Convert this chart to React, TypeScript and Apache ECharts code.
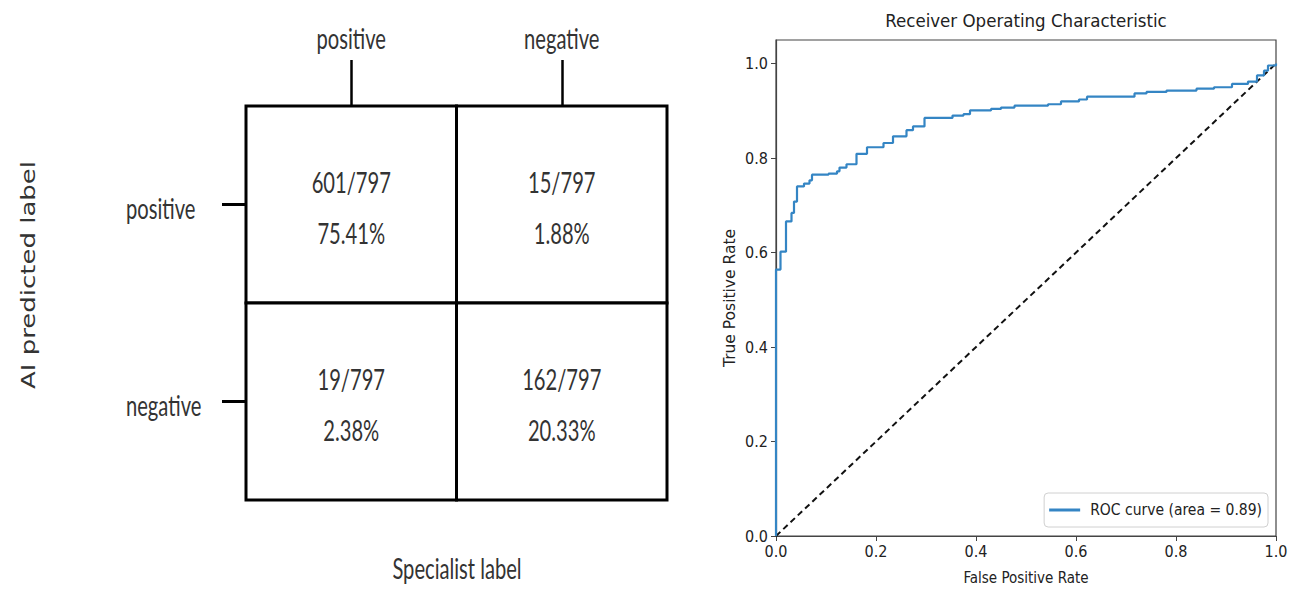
import React, { useEffect, useRef } from "react";
import * as echarts from "echarts";

// ---------- Confusion matrix data ----------
const specialistLabels = ["positive", "negative"]; // columns (x)
const predictedLabels = ["positive", "negative"]; // rows (y)
// rows: AI predicted label, columns: specialist label
const confusionCounts = [
  [601, 15],
  [19, 162],
];
const totalCases = 797;

// ---------- ROC data ----------
const fprValues = [
  0, 0, 0.009, 0.02, 0.031, 0.036, 0.042, 0.056, 0.067, 0.072,
  0.105, 0.122, 0.127, 0.141, 0.161, 0.182, 0.215, 0.234, 0.261, 0.274,
  0.297, 0.353, 0.375, 0.388, 0.43, 0.45, 0.477, 0.544, 0.57, 0.606,
  0.622, 0.717, 0.741, 0.781, 0.841, 0.876, 0.912, 0.944, 0.962, 0.976,
  0.984, 1.0,
];
const tprValues = [
  0, 0.564, 0.602, 0.666, 0.684, 0.708, 0.74, 0.746, 0.753, 0.765,
  0.767, 0.772, 0.78, 0.787, 0.809, 0.823, 0.832, 0.846, 0.859, 0.867,
  0.885, 0.89, 0.893, 0.901, 0.904, 0.907, 0.911, 0.914, 0.92, 0.924,
  0.93, 0.937, 0.94, 0.943, 0.947, 0.95, 0.957, 0.962, 0.975, 0.985,
  0.996, 1.0,
];
const chanceLine = [
  [0, 0],
  [1, 1],
];
const rocAxisTicks = [0, 0.2, 0.4, 0.6, 0.8, 1.0];
const rocName = "ROC curve (area = 0.89)";

const CM_FONT = "Lato, 'Open Sans', sans-serif";
const CM_SIZE = 28;
const CM_SQUEEZE = 0.72;
const MPL_FONT = "'DejaVu Sans Condensed', 'DejaVu Sans', sans-serif";

export default function App() {
  const ref = useRef<HTMLDivElement>(null);

  useEffect(() => {
    if (!ref.current) return;
    const chart = echarts.init(ref.current, undefined, { renderer: "svg" });

    const cmData: any[] = [];
    for (let r = 0; r < predictedLabels.length; r++) {
      for (let c = 0; c < specialistLabels.length; c++) {
        const n = confusionCounts[r][c];
        cmData.push([c, r, n, ((n / totalCases) * 100).toFixed(2) + "%"]);
      }
    }

    const cmText = (text: string, x: number, y: number, align = "center") => ({
      type: "text",
      x,
      y,
      scaleX: CM_SQUEEZE,
      style: {
        text,
        fontFamily: CM_FONT,
        fontSize: CM_SIZE,
        fill: "#333",
        align,
        verticalAlign: "middle",
      },
    });

    const option: any = {
      animation: false,
      backgroundColor: "#ffffff",
      title: {
        text: "Receiver Operating Characteristic",
        left: 1026,
        top: 11,
        textAlign: "center",
        padding: 0,
        textStyle: {
          fontFamily: MPL_FONT,
          fontSize: 18.5,
          fontWeight: "normal",
          color: "#222",
        },
      },
      legend: {
        data: [{ name: rocName, icon: "rect" }],
        right: 32,
        bottom: 67,
        orient: "vertical",
        itemWidth: 31,
        itemHeight: 3,
        padding: [9, 6, 9, 5],
        borderColor: "#d0d0d0",
        borderWidth: 1,
        borderRadius: 4,
        backgroundColor: "#fff",
        textStyle: {
          fontFamily: MPL_FONT,
          fontSize: 15.5,
          color: "#222",
          padding: [0, 0, 0, 5],
        },
      },
      grid: [
        {
          left: 776,
          top: 40,
          right: 24,
          bottom: 58,
          show: true,
          borderColor: "#444",
          borderWidth: 1.2,
          backgroundColor: "transparent",
          containLabel: false,
        },
        {
          left: 246,
          top: 106,
          width: 421,
          height: 394,
          containLabel: false,
        },
      ],
      xAxis: [
        {
          gridIndex: 0,
          type: "value",
          min: 0,
          max: 1,
          interval: 0.2,
          name: "False Positive Rate",
          nameLocation: "middle",
          nameGap: 34,
          nameTextStyle: { fontFamily: MPL_FONT, fontSize: 15, color: "#222" },
          axisLine: { show: true, lineStyle: { color: "#444", width: 1.2 } },
          axisTick: { show: true, length: 5, lineStyle: { color: "#444" } },
          axisLabel: {
            margin: 7,
            fontFamily: MPL_FONT,
            fontSize: 16,
            color: "#222",
            formatter: (v: number) => v.toFixed(1),
          },
          splitLine: { show: false },
        },
        {
          gridIndex: 1,
          type: "category",
          position: "top",
          data: specialistLabels,
          axisLine: { show: false },
          axisTick: {
            show: true,
            alignWithLabel: true,
            length: 46,
            lineStyle: { color: "#000", width: 2.5 },
          },
          axisLabel: { show: false },
          splitLine: { show: false },
        },
      ],
      yAxis: [
        {
          gridIndex: 0,
          type: "value",
          min: 0,
          max: 1.05,
          interval: 0.2,
          name: "True Positive Rate",
          nameLocation: "middle",
          nameGap: 38,
          nameTextStyle: {
            fontFamily: "'DejaVu Sans', sans-serif",
            fontSize: 15.5,
            color: "#222",
            padding: [0, 20, 0, 0],
          },
          axisLine: { show: true, lineStyle: { color: "#444", width: 1.2 } },
          axisTick: {
            show: true,
            length: 5,
            lineStyle: { color: "#444" },
            customValues: rocAxisTicks,
          },
          axisLabel: {
            margin: 8,
            fontFamily: MPL_FONT,
            fontSize: 16,
            color: "#222",
            customValues: rocAxisTicks,
            formatter: (v: number) => v.toFixed(1),
          },
          splitLine: { show: false },
        },
        {
          gridIndex: 1,
          type: "category",
          inverse: true,
          data: predictedLabels,
          axisLine: { show: false },
          axisTick: {
            show: true,
            alignWithLabel: true,
            length: 24,
            lineStyle: { color: "#000", width: 3 },
          },
          axisLabel: { show: false },
          splitLine: { show: false },
        },
      ],
      graphic: [
        {
          type: "text",
          x: 28,
          y: 275,
          rotation: Math.PI / 2,
          scaleY: 0.72,
          style: {
            text: "AI predicted label",
            fontFamily: "'DejaVu Sans', sans-serif",
            fontSize: 26,
            fill: "#333",
            align: "center",
            verticalAlign: "middle",
          },
        },
        {
          type: "text",
          x: 457,
          y: 568,
          scaleX: CM_SQUEEZE,
          style: {
            text: "Specialist label",
            fontFamily: CM_FONT,
            fontSize: CM_SIZE,
            fill: "#333",
            align: "center",
            verticalAlign: "middle",
          },
        },
      ],
      series: [
        {
          name: "chance",
          type: "line",
          xAxisIndex: 0,
          yAxisIndex: 0,
          data: chanceLine,
          showSymbol: false,
          symbol: "none",
          lineStyle: { color: "#111", width: 2, type: [6, 4] },
          z: 2,
        },
        {
          name: rocName,
          type: "line",
          xAxisIndex: 0,
          yAxisIndex: 0,
          data: fprValues.map((x, i) => [x, tprValues[i]]),
          step: "end",
          showSymbol: false,
          symbol: "none",
          color: "#3485c4",
          lineStyle: { color: "#3485c4", width: 2.2 },
          z: 3,
        },
        {
          name: "confusion",
          type: "custom",
          xAxisIndex: 1,
          yAxisIndex: 1,
          data: cmData,
          renderItem: (params: any, api: any) => {
            const col = api.value(0);
            const row = api.value(1);
            const c = api.coord([col, row]);
            const s = api.size([1, 1]);
            const countText = api.value(2) + "/" + totalCases;
            const pctText = cmData[params.dataIndex][3];
            const children: any[] = [
              {
                type: "rect",
                shape: { x: c[0] - s[0] / 2, y: c[1] - s[1] / 2, width: s[0], height: s[1] },
                style: { fill: "#fff", stroke: "#000", lineWidth: 3 },
              },
              cmText(countText, c[0], c[1] - 22),
              cmText(pctText, c[0], c[1] + 29),
            ];
            // column label (specialist) above the first row
            if (row === 0) {
              children.push(cmText(specialistLabels[col], c[0], c[1] - s[1] / 2 - 68));
            }
            // row label (AI predicted) left of the first column
            if (col === 0) {
              children.push(cmText(predictedLabels[row], c[0] - s[0] / 2 - 120, c[1] + 4, "left"));
            }
            return { type: "group", children };
          },
        },
      ],
    };

    chart.setOption(option);
    return () => chart.dispose();
  }, []);

  return (
    <div
      ref={ref}
      style={{ position: "fixed", left: 0, top: 0, width: 1300, height: 594, background: "#fff" }}
    />
  );
}
